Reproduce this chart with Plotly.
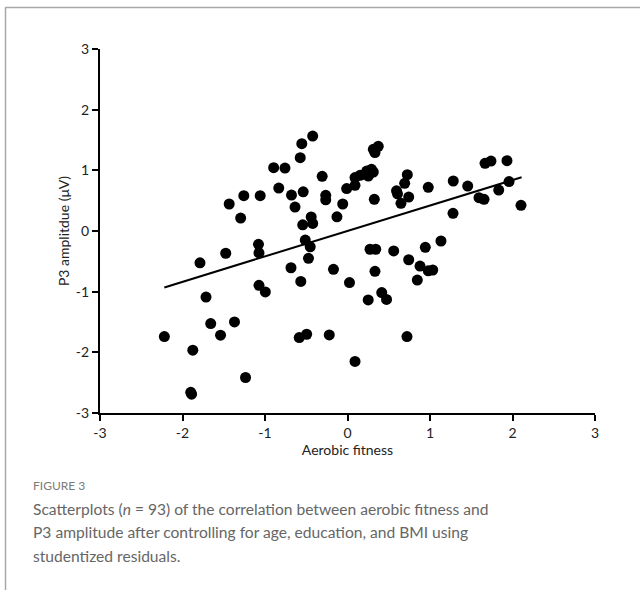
import plotly.graph_objects as go

# Studentized residuals
aerobic_fitness = [
    -2.22, -1.875, -1.90, -1.89, -1.788, -1.715, -1.658, -1.539, -1.476, -1.434,
    -1.370, -1.295, -1.257, -1.236, -1.079, -1.073, -1.073, -1.058, -0.996, -0.895,
    -0.833, -0.758, -0.685, -0.679, -0.636, -0.585, -0.573, -0.566, -0.554, -0.543,
    -0.537, -0.512, -0.495, -0.473, -0.452, -0.44, -0.422, -0.422, -0.307, -0.264,
    -0.264, -0.221, -0.170, -0.128, -0.058, -0.010, 0.024, 0.091, 0.091, 0.091,
    0.152, 0.233, 0.252, 0.291, 0.313, 0.27, 0.251, 0.273, 0.313, 0.333,
    0.373, 0.342, 0.325, 0.333, 0.415, 0.473, 0.56, 0.594, 0.606, 0.648,
    0.693, 0.725, 0.742, 0.721, 0.742, 0.846, 0.879, 0.943, 0.979, 1.033,
    0.979, 1.133, 1.282, 1.279, 1.457, 1.594, 1.655, 1.667, 1.739, 1.833,
    1.933, 1.958, 2.103,
]
p3_amplitude = [
    -1.74, -1.965, -2.66, -2.69, -0.524, -1.089, -1.526, -1.718, -0.367, 0.445,
    -1.499, 0.213, 0.583, -2.415, -0.219, -0.362, -0.895, 0.583, -1.005, 1.044,
    0.708, 1.038, -0.606, 0.593, 0.395, -1.756, 1.209, -0.832, 1.44, 0.102,
    0.646, -0.150, -1.702, -0.450, -0.260, 0.231, 0.124, 1.565, 0.901, 0.588,
    0.514, -1.713, -0.631, 0.234, 0.445, 0.699, -0.850, 0.753, -2.150, 0.880,
    0.918, 0.988, 0.906, 1.016, 0.972, 0.95, -1.137, -0.301, 1.346, 1.292,
    1.395, -0.301, 0.522, -0.664, -1.015, -1.128, -0.329, 0.662, 0.613, 0.456,
    0.786, 0.929, 0.560, -1.740, -0.474, -0.809, -0.578, -0.269, -0.656, -0.643,
    0.720, -0.165, 0.824, 0.292, 0.741, 0.550, 0.522, 1.115, 1.153, 0.675,
    1.160, 0.814, 0.423,
]

# Regression line endpoints
fit_x = [-2.22, 2.11]
fit_y = [-0.93, 0.885]

tick_vals = [-3, -2, -1, 0, 1, 2, 3]
tick_text = ["-3", "-2", "-1", "0", "1", "2", "3"]

x_title = "Aerobic fitness"
y_title = "P3 amplitdue (μV)"
fig_label = "FIGURE 3"
caption_lines = [
    "Scatterplots (<i>n</i> = 93) of the correlation between aerobic fitness and",
    "P3 amplitude after controlling for age, education, and BMI using",
    "studentized residuals.",
]

AX_FONT = "Lato"

fig = go.Figure()
fig.add_trace(go.Scatter(
    x=fit_x, y=fit_y, mode="lines",
    line=dict(color="black", width=2), showlegend=False, hoverinfo="skip",
))
fig.add_trace(go.Scatter(
    x=aerobic_fitness, y=p3_amplitude, mode="markers",
    marker=dict(color="black", size=11, line=dict(width=0)),
    showlegend=False,
))

axis_common = dict(
    range=[-3, 3], tickvals=tick_vals, ticktext=tick_text,
    showline=True, linecolor="black", linewidth=2,
    ticks="outside", ticklen=6, tickwidth=2, tickcolor="black",
    showgrid=False, zeroline=False,
    tickfont=dict(family=AX_FONT, size=14, color="#222"),
)

fig.update_layout(
    width=640, height=590,
    margin=dict(l=100, r=45, t=49, b=177),
    paper_bgcolor="white", plot_bgcolor="white",
    xaxis=dict(**axis_common, title=dict(text=x_title, standoff=0,
               font=dict(family=AX_FONT, size=14, color="#222"))),
    yaxis=dict(**axis_common, title=dict(text=y_title, standoff=3,
               font=dict(family=AX_FONT, size=14, color="#222"))),
)

W, H = 495.0, 364.0  # plot area px


def px_to_paper(px, py):
    return (px - 100) / W, (413 - py) / H


# Frame border: top and left edges
lx0, ty = px_to_paper(5.5, 7.5)
rx, _ = px_to_paper(640, 7.5)
_, by = px_to_paper(5.5, 590)
fig.add_shape(type="line", xref="paper", yref="paper", x0=lx0, y0=ty, x1=rx, y1=ty,
              line=dict(color="#a8a8a8", width=1.5), layer="above")
fig.add_shape(type="line", xref="paper", yref="paper", x0=lx0, y0=ty, x1=lx0, y1=by,
              line=dict(color="#a8a8a8", width=1.5), layer="above")

cx, cy = px_to_paper(31, 485)
fig.add_annotation(xref="paper", yref="paper", x=cx, y=cy, xanchor="left", yanchor="middle",
                   text=fig_label, showarrow=False,
                   font=dict(family=AX_FONT, size=12, color="#7a7a7a"))
for i, line in enumerate(caption_lines):
    tx, tyy = px_to_paper(31, 509 + 23.3 * i)
    fig.add_annotation(xref="paper", yref="paper", x=tx, y=tyy, xanchor="left", yanchor="middle",
                       text=line, showarrow=False,
                       font=dict(family="Lato", size=15.6, color="#666"))

post = (
    "document.body.style.margin='0';"
    "var fr=document.createElement('div');"
    "fr.style.cssText='position:fixed;left:5px;top:6.5px;width:700px;height:700px;"
    "border-top:1.5px solid #a8a8a8;border-left:1.5px solid #a8a8a8;"
    "pointer-events:none;box-sizing:border-box;z-index:10';"
    "document.body.appendChild(fr);"
)
fig.write_html("out.html", config={"displayModeBar": False}, post_script=post)
